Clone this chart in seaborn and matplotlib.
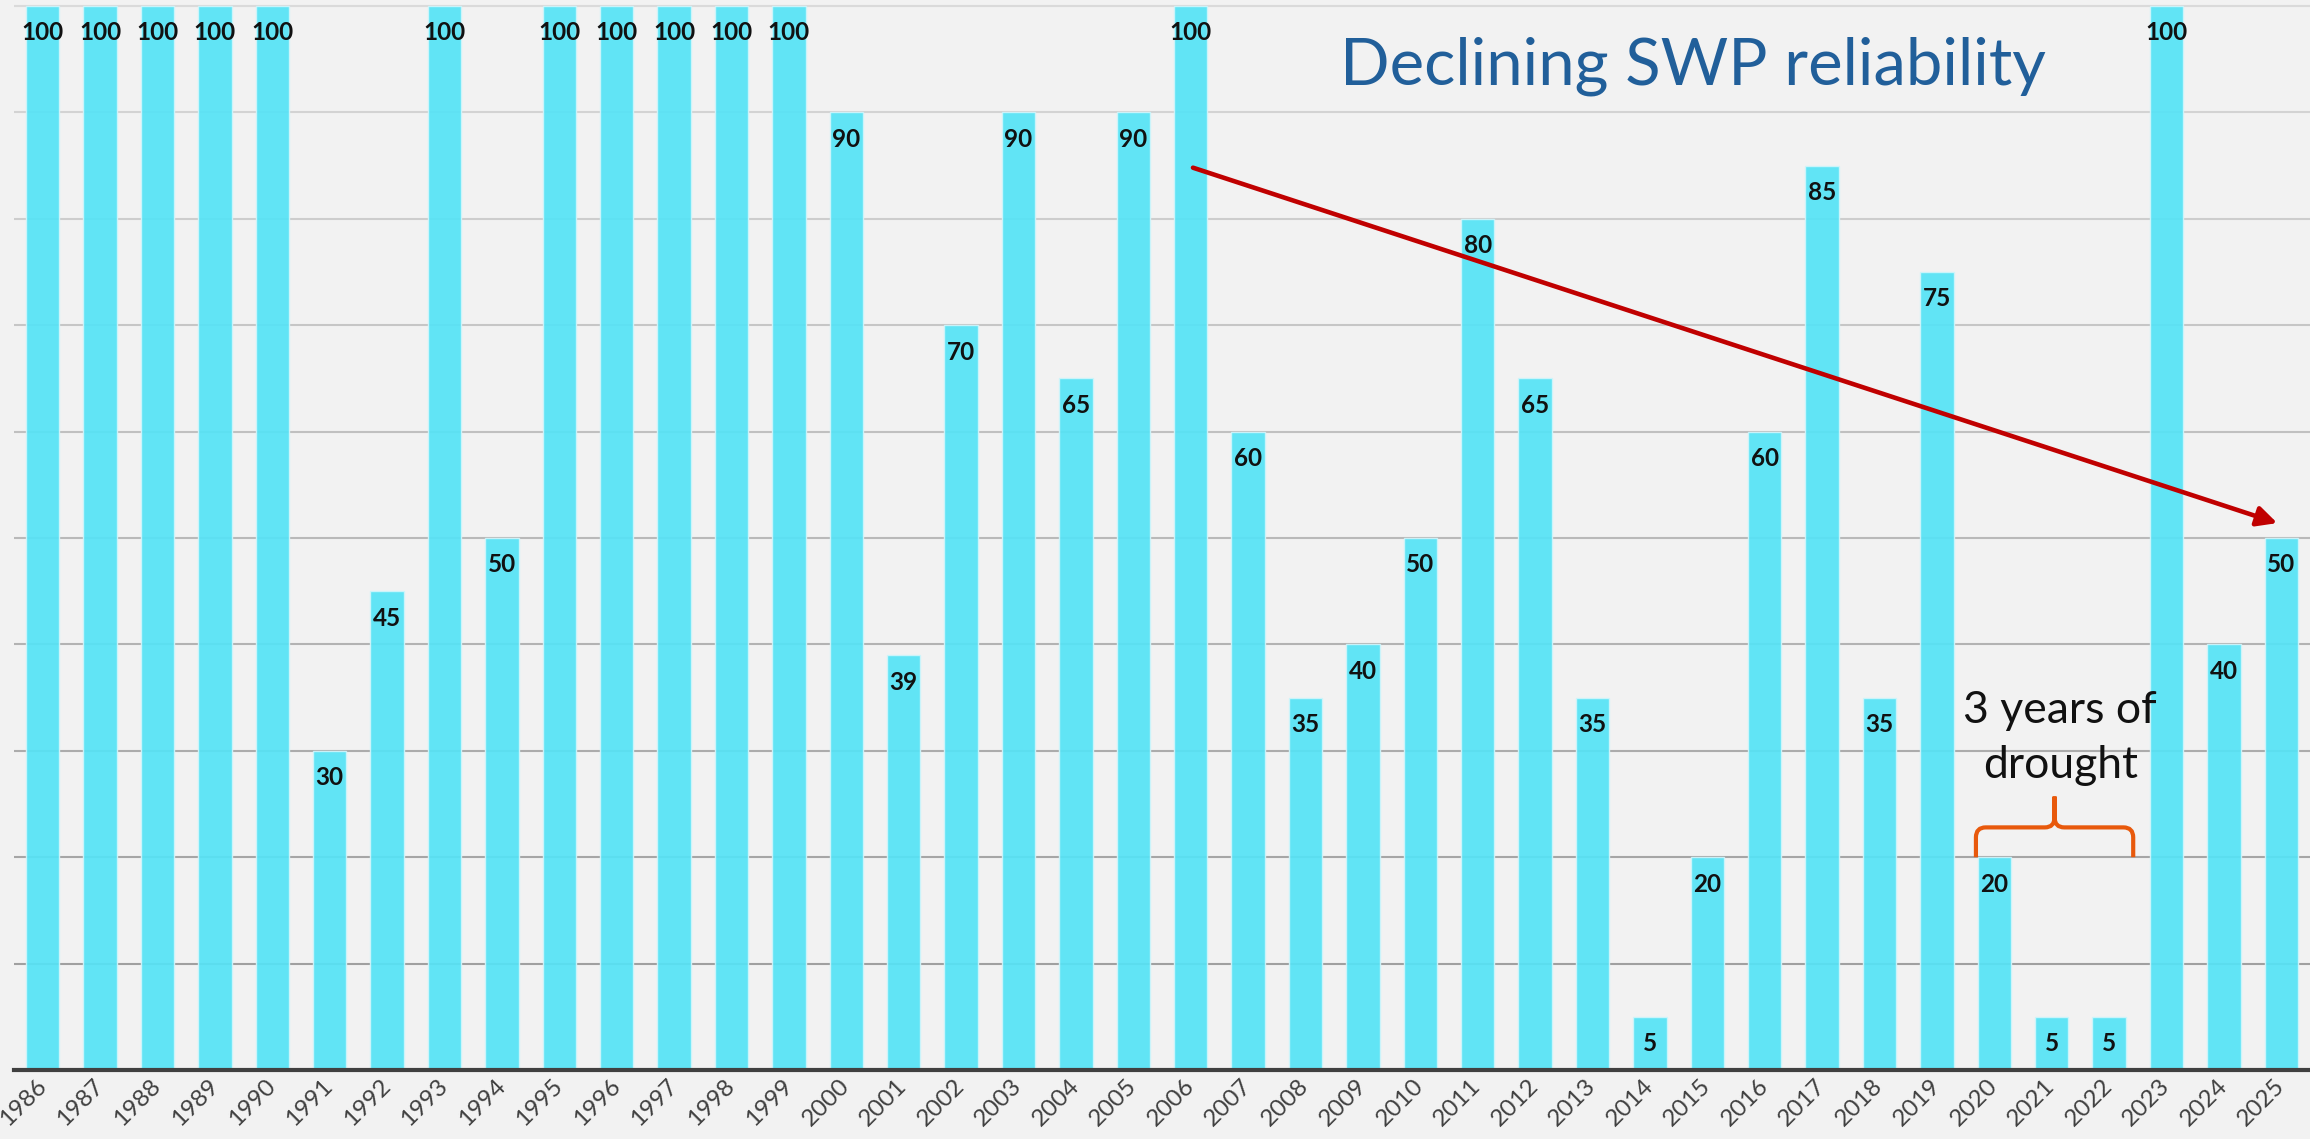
import matplotlib
matplotlib.use("Agg")
from matplotlib import pyplot as plt
from matplotlib.path import Path
from matplotlib.patches import PathPatch
import numpy as np
import pandas as pd
import seaborn as sns

years = [str(y) for y in range(1986, 2026)]
allocation = [100, 100, 100, 100, 100, 30, 45, 100, 50, 100,
              100, 100, 100, 100, 90, 39, 70, 90, 65, 90,
              100, 60, 35, 40, 50, 80, 65, 35, 5, 20,
              60, 85, 35, 75, 20, 5, 5, 100, 40, 50]
drought_years = ["2020", "2021", "2022"]
title_text = "Declining SWP reliability"
drought_text = "3 years of\ndrought"

BG = "#F2F2F2"
BAR = "#55E3F6"
FONT = ["Lato", "DejaVu Sans"]

sns.set_theme(style="white")
plt.rcParams["font.family"] = FONT

df = pd.DataFrame({"year": years, "pct": allocation})

fig = plt.figure(figsize=(23.1, 11.39), dpi=100, facecolor=BG)
ax = fig.add_axes([14 / 2310, 1 - 1070 / 1139, 1 - 14 / 2310, 1070 / 1139])
ax.set_facecolor(BG)

sns.barplot(data=df, x="year", y="pct", order=years, color=BAR, saturation=1,
            width=0.585, alpha=0.92, edgecolor="#CFF5FB", linewidth=1, ax=ax, zorder=2)

ax.set_xlim(-0.5, len(years) - 0.5)
ax.set_ylim(0, 100.56)
ax.set_yticks(np.arange(10, 101, 10))
ax.set_yticklabels([])
ax.tick_params(axis="y", length=0)
ax.tick_params(axis="x", length=0, pad=9, labelsize=17.5, labelcolor="#404040",
               labelrotation=45)
plt.setp(ax.get_xticklabels(), ha="right", va="center", rotation_mode="anchor")
ax.grid(axis="y", linewidth=1.5, zorder=0)
ax.set_axisbelow(True)
# gridlines look lighter towards the top in the original
for val, gl in zip(ax.get_yticks(), ax.get_ygridlines()):
    t = (val - 10) / 90
    g = int(160 + t * (218 - 160))
    gl.set_color("#%02x%02x%02x" % (g, g, g))

for side in ["left", "right", "top"]:
    ax.spines[side].set_visible(False)
ax.spines["bottom"].set_color("#404040")
ax.spines["bottom"].set_linewidth(3)
ax.spines["bottom"].set_zorder(5)
ax.set_xlabel("")
ax.set_ylabel("")

# value labels inside top of each bar
for i, v in enumerate(allocation):
    ax.annotate(str(v), (i, v), xytext=(0, -27), textcoords="offset pixels",
                ha="center", va="center", fontsize=17.5, fontweight="bold",
                color="#111111", zorder=6)

# trend arrow
i06 = years.index("2006")
i25 = years.index("2025")
ax.annotate("", xy=(i25 - 0.07, 51.4), xytext=(i06 + 0.04, 84.8),
            arrowprops=dict(arrowstyle="-|>,head_length=0.6,head_width=0.3",
                            color="#C00000", lw=3.3, mutation_scale=20,
                            shrinkA=0, shrinkB=0), zorder=4)

# drought brace
left = years.index(drought_years[0]) - 0.32
right = years.index(drought_years[-1]) + 0.42
mid = (left + right) / 2
yb = allocation[years.index(drought_years[0])]
yh, yp = yb + 2.8, yb + 5.7
rx, ry = 0.17, 0.94
verts = [(left, yb), (left, yh - ry), (left, yh), (left + rx, yh), (mid - rx, yh),
         (mid, yh), (mid, yh + ry), (mid, yp),
         (mid, yp), (mid, yh + ry), (mid, yh), (mid + rx, yh), (right - rx, yh),
         (right, yh), (right, yh - ry), (right, yb)]
codes = [Path.MOVETO, Path.LINETO, Path.CURVE3, Path.CURVE3, Path.LINETO,
         Path.CURVE3, Path.CURVE3, Path.LINETO,
         Path.MOVETO, Path.LINETO, Path.CURVE3, Path.CURVE3, Path.LINETO,
         Path.CURVE3, Path.CURVE3, Path.LINETO]
ax.add_patch(PathPatch(Path(verts, codes), facecolor="none", edgecolor="#E8590C",
                       lw=3, capstyle="butt", joinstyle="round", zorder=4))
ax.text(years.index("2021") + 0.15, 31.2, drought_text, ha="center", va="center",
        fontsize=32, color="#111111", linespacing=1.45, zorder=6)

fig.text(1693 / 2310, 1 - 84 / 1139, title_text, ha="center", va="baseline",
         fontsize=47, fontweight="normal", color="#215F9A")

fig.savefig("out.png", dpi=100, facecolor=BG)
